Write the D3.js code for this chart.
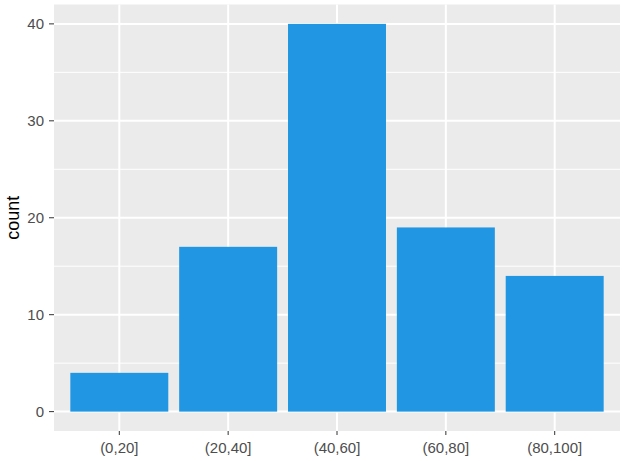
<!DOCTYPE html>
<html><head><meta charset="utf-8">
<script src="https://cdn.jsdelivr.net/npm/d3@7"></script>
<style>body{margin:0;background:#fff;} svg{display:block;}</style>
</head><body>
<script>
const categories = ["(0,20]", "(20,40]", "(40,60]", "(60,80]", "(80,100]"];
const counts = [4, 17, 40, 19, 14];
const yTicks = [0, 10, 20, 30, 40];
const yMinor = [5, 15, 25, 35];

const W = 624, H = 461;
const panel = {left: 54, right: 620, top: 4.5, bottom: 431};
const svg = d3.select("body").append("svg").attr("width", W).attr("height", H);

// ggplot: discrete axis expanded by 0.6 units on each side
const x = d3.scaleLinear().domain([0.4, categories.length + 0.6]).range([panel.left, panel.right]);
const cx = d => x(categories.indexOf(d) + 1);
const y = d3.scaleLinear().domain([-2, 42]).range([panel.bottom, panel.top]);
const font = "Liberation Sans, Arial, sans-serif";

svg.append("rect").attr("x", panel.left).attr("y", panel.top)
  .attr("width", panel.right - panel.left).attr("height", panel.bottom - panel.top)
  .attr("fill", "#EBEBEB");

const g = svg.append("g");
g.selectAll(".minor").data(yMinor).join("line")
  .attr("x1", panel.left).attr("x2", panel.right)
  .attr("y1", d => y(d)).attr("y2", d => y(d))
  .attr("stroke", "#fff").attr("stroke-width", 1);
g.selectAll(".majory").data(yTicks).join("line")
  .attr("x1", panel.left).attr("x2", panel.right)
  .attr("y1", d => y(d)).attr("y2", d => y(d))
  .attr("stroke", "#fff").attr("stroke-width", 2);
g.selectAll(".majorx").data(categories).join("line")
  .attr("y1", panel.top).attr("y2", panel.bottom)
  .attr("x1", d => cx(d)).attr("x2", d => cx(d))
  .attr("stroke", "#fff").attr("stroke-width", 2);

const bw = (x(2) - x(1)) * 0.9;
svg.selectAll(".bar").data(categories).join("rect")
  .attr("x", d => cx(d) - bw / 2)
  .attr("width", bw)
  .attr("y", (d, i) => y(counts[i]))
  .attr("height", (d, i) => y(0) - y(counts[i]))
  .attr("fill", "#2196E3");

// Y axis
const ya = svg.append("g");
ya.selectAll("line").data(yTicks).join("line")
  .attr("x1", panel.left - 5).attr("x2", panel.left)
  .attr("y1", d => y(d)).attr("y2", d => y(d))
  .attr("stroke", "#333").attr("stroke-width", 1);
ya.selectAll("text").data(yTicks).join("text")
  .attr("x", panel.left - 10).attr("y", d => y(d)).attr("dy", "0.36em")
  .attr("text-anchor", "end").attr("font-family", font)
  .attr("font-size", 15).attr("fill", "#4D4D4D").text(d => d);

// X axis
const xa = svg.append("g");
xa.selectAll("line").data(categories).join("line")
  .attr("x1", d => cx(d)).attr("x2", d => cx(d))
  .attr("y1", panel.bottom).attr("y2", panel.bottom + 4)
  .attr("stroke", "#333").attr("stroke-width", 1);
xa.selectAll("text").data(categories).join("text")
  .attr("x", d => cx(d)).attr("y", panel.bottom + 17)
  .attr("dy", "0.36em")
  .attr("text-anchor", "middle").attr("font-family", font)
  .attr("font-size", 15).attr("fill", "#4D4D4D").text(d => d);

svg.append("text")
  .attr("transform", `translate(19,${(panel.top + panel.bottom) / 2}) rotate(-90)`)
  .attr("text-anchor", "middle")
  .attr("font-family", font)
  .attr("font-size", 18).attr("fill", "#000").text("count");
</script>
</body></html>
